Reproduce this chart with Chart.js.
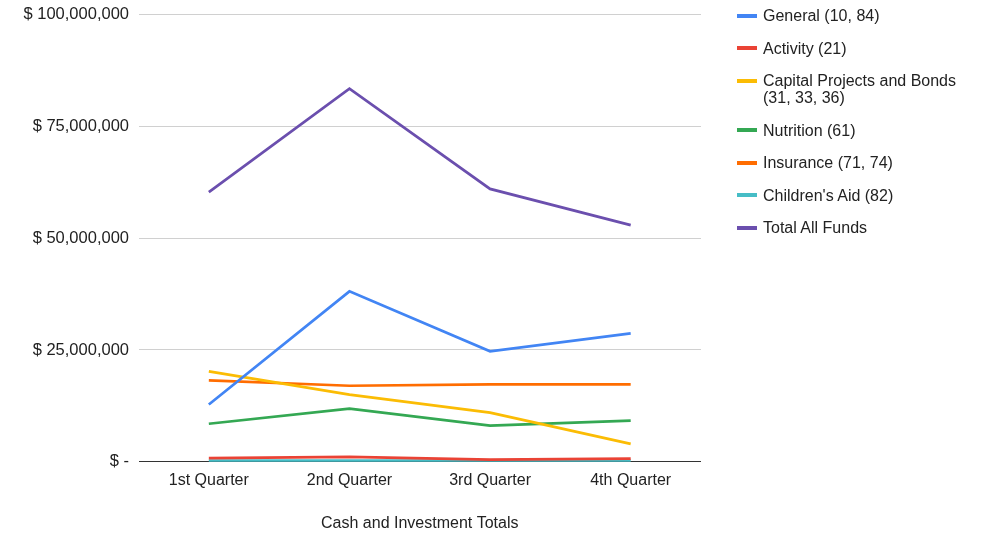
<!DOCTYPE html>
<html>
<head>
<meta charset="utf-8">
<script src="https://cdn.jsdelivr.net/npm/chart.js@4.4.0/dist/chart.umd.min.js"></script>
<style>
  body { margin: 0; background: #fff; font-family: "Liberation Sans", Arial, sans-serif; }
  #wrap { position: relative; width: 987px; height: 534px; }
  #legend { position: absolute; left: 737px; top: 7px; margin: 0; padding: 0; list-style: none; font-size: 16px; color: #222; }
  #legend li { position: relative; padding-left: 26px; margin-bottom: 15.5px; line-height: 17px; }
  #legend li span { position: absolute; left: 0; top: 6.5px; width: 20px; height: 4px; }
</style>
</head>
<body>
<div id="wrap">
  <canvas id="fundsChart" width="987" height="534"></canvas>
  <ul id="legend"></ul>
</div>
<script>
var quarters = ['1st Quarter', '2nd Quarter', '3rd Quarter', '4th Quarter'];

var general    = [12800000, 38100000, 24700000, 28700000];
var activity   = [800000, 1100000, 500000, 700000];
var capital    = [20200000, 15000000, 11000000, 4000000];
var nutrition  = [8500000, 11900000, 8100000, 9200000];
var insurance  = [18200000, 17000000, 17300000, 17300000];
var childrens  = [250000, 250000, 250000, 250000];
var totalFunds = [60300000, 83400000, 61000000, 52900000];

var fundNames = [
  'General (10, 84)',
  'Activity (21)',
  'Capital Projects and Bonds\n(31, 33, 36)',
  'Nutrition (61)',
  'Insurance (71, 74)',
  "Children's Aid (82)",
  'Total All Funds'
];
var fundColors = ['#4285f4', '#ea4335', '#fbbc04', '#34a853', '#ff6d01', '#46bdc6', '#6b4fae'];
var fundValues = [general, activity, capital, nutrition, insurance, childrens, totalFunds];

var datasets = [];
for (var i = 0; i < fundNames.length; i++) {
  datasets.push({
    label: fundNames[i].replace('\n', ' '),
    data: fundValues[i],
    borderColor: fundColors[i],
    backgroundColor: fundColors[i],
    borderWidth: 2.7,
    pointRadius: 0,
    tension: 0
  });
}

// legend on the right, built from the same names/colours
var legend = document.getElementById('legend');
for (var j = 0; j < fundNames.length; j++) {
  var li = document.createElement('li');
  var sw = document.createElement('span');
  sw.style.background = fundColors[j];
  li.appendChild(sw);
  var lines = fundNames[j].split('\n');
  for (var k = 0; k < lines.length; k++) {
    if (k > 0) li.appendChild(document.createElement('br'));
    li.appendChild(document.createTextNode(lines[k]));
  }
  legend.appendChild(li);
}

Chart.defaults.font.family = '"Liberation Sans", Arial, sans-serif';
Chart.defaults.font.size = 16;
Chart.defaults.color = '#222';

var ctx = document.getElementById('fundsChart');
var myChart = new Chart(ctx, {
  type: 'line',
  data: { labels: quarters, datasets: datasets },
  options: {
    responsive: false,
    animation: false,
    layout: { padding: { top: 2, right: 286, bottom: 2, left: 14 } },
    plugins: { legend: { display: false }, tooltip: { enabled: false } },
    scales: {
      x: {
        offset: true,
        grid: { display: false },
        border: { display: false },
        ticks: { padding: 1, color: '#222' },
        title: {
          display: true,
          text: 'Cash and Investment Totals',
          color: '#222',
          font: { lineHeight: 1 },
          padding: { top: 25, bottom: 0 }
        }
      },
      y: {
        min: 0,
        max: 100000000,
        border: { display: false },
        ticks: {
          stepSize: 25000000,
          padding: 9.5,
          color: '#222',
          font: { size: 16.5, lineHeight: 0.6 },
          callback: function (v) {
            return v === 0 ? '$ -' : '$ ' + v.toLocaleString('en-US');
          }
        },
        grid: {
          drawTicks: false,
          color: function (c) { return c.tick && c.tick.value === 0 ? '#333' : '#d0d0d0'; }
        }
      }
    }
  }
});
</script>
</body>
</html>
